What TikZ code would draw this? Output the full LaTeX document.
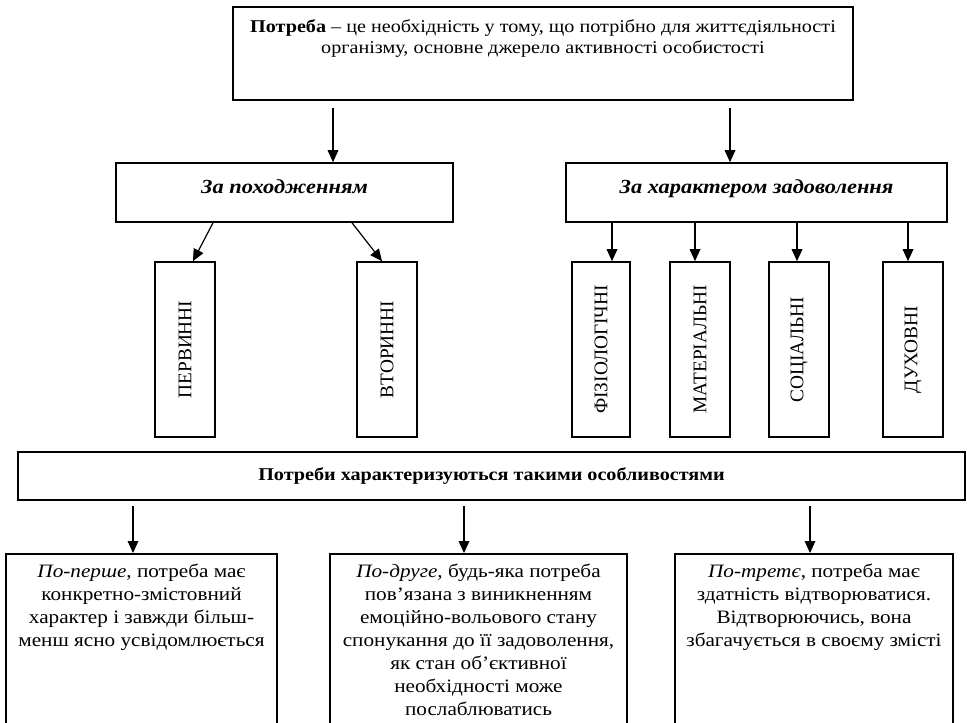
\documentclass[tikz,border=0pt]{standalone}
\usepackage{fontspec}
\setmainfont{Liberation Serif}[FakeStretch=1.12]
\newfontfamily\uprightserif{Liberation Serif}
\usetikzlibrary{arrows.meta}
\newdimen\px
\px=0.75pt
\tikzset{
  box/.style={draw, line width=1.2pt, rectangle, inner sep=0pt},
  arr/.style={line width=0.9pt, -{Triangle[length=9pt,width=8pt]}},
  catbox/.style={box, minimum height=59\px, text height=1.3ex, text depth=1.1ex,
    font=\fontsize{15}{18}\selectfont\bfseries\itshape},
  kindbox/.style={box, minimum width=60\px, minimum height=175\px, font=\uprightserif\fontsize{14.5}{16}\selectfont},
  featbox/.style={box, anchor=north, align=center, inner ysep=10\px, text depth=230\px,
    font=\fontsize{14.2}{17.25}\selectfont}
}
\begin{document}
\begin{tikzpicture}[x=0.75pt, y=-0.75pt]
  \useasboundingbox (0,0) rectangle (967,722);

  % Definition
  \node[box, anchor=north, minimum width=620\px, minimum height=93\px] (need) at (543,6) {};
  \node[anchor=north, inner sep=0pt, align=center, font=\fontsize{13.5}{15.75}\selectfont] (needtext) at (543,19)
    {\textbf{Потреба} – це необхідність у тому, що потрібно для життєдіяльності\\
     організму, основне джерело активності особистості};

  % Classification
  \node[catbox, minimum width=337\px] (origin) at (284.5,192.5) {За походженням};
  \node[catbox, minimum width=381\px] (satisf) at (756.5,192.5) {За характером задоволення};

  % Kinds of needs
  \node[kindbox] (prim) at (185,349.5) {\rotatebox{90}{ПЕРВИННІ}};
  \node[kindbox] (second) at (387,349.5) {\rotatebox{90}{ВТОРИННІ}};
  \node[kindbox, minimum width=58\px] (phys) at (601,349.5) {\rotatebox{90}{ФІЗІОЛОГІЧНІ}};
  \node[kindbox] (mat) at (700,349.5) {\rotatebox{90}{МАТЕРІАЛЬНІ}};
  \node[kindbox] (soc) at (799,349.5) {\rotatebox{90}{СОЦІАЛЬНІ}};
  \node[kindbox] (spir) at (913,349.5) {\rotatebox{90}{ДУХОВНІ}};

  % Features
  \node[box, minimum width=947\px, minimum height=48\px, font=\fontsize{13.5}{16}\selectfont\bfseries] (traits) at (491.5,476)
    {Потреби характеризуються такими особливостями};
  \node[featbox, minimum width=271\px] (first) at (141.5,553)
    {\textit{По-перше}, потреба має\\
     конкретно-змістовний\\
     характер і завжди більш-\\
     менш ясно усвідомлюється};
  \node[featbox, minimum width=297\px] (secnd) at (478.5,553)
    {\textit{По-друге}, будь-яка потреба\\
     пов’язана з виникненням\\
     емоційно-вольового стану\\
     спонукання до її задоволення,\\
     як стан об’єктивної\\
     необхідності може\\
     послаблюватись};
  \node[featbox, minimum width=278\px] (third) at (814,553)
    {\textit{По-третє}, потреба має\\
     здатність відтворюватися.\\
     Відтворюючись, вона\\
     збагачується в своєму змісті};

  % Arrows
  \draw[arr, shorten <=7\px] ([xshift=48.5\px]origin.north |- need.south) -- ([xshift=48.5\px]origin.north);
  \draw[arr, shorten <=7\px] ([xshift=-26.5\px]satisf.north |- need.south) -- ([xshift=-26.5\px]satisf.north);
  \draw[arr] ([xshift=-71.5\px]origin.south) -- ([xshift=8\px]prim.north);
  \draw[arr] ([xshift=67.5\px]origin.south) -- ([xshift=-5\px]second.north);
  \foreach \kind/\dx in {phys/11, mat/-5, soc/-2, spir/-5}
    \draw[arr] ([xshift=\dx\px]\kind.north |- satisf.south) -- ([xshift=\dx\px]\kind.north);
  \foreach \feat/\dx in {first/-8.5, secnd/-14.5, third/-4}
    \draw[arr, shorten <=5\px] ([xshift=\dx\px]\feat.north |- traits.south) -- ([xshift=\dx\px]\feat.north);
\end{tikzpicture}
\end{document}
